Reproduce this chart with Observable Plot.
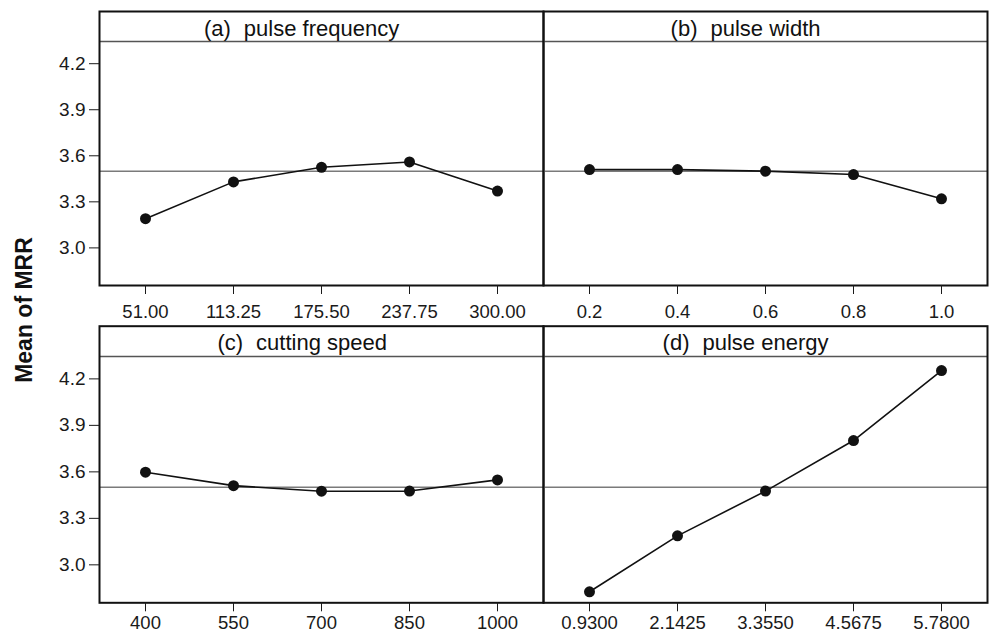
<!DOCTYPE html>
<html><head><meta charset="utf-8">
<script src="https://cdn.jsdelivr.net/npm/d3@7"></script>
<script src="https://cdn.jsdelivr.net/npm/@observablehq/plot@0.6"></script>
<style>
html,body{margin:0;padding:0;background:#fff;}
#chart{position:relative;width:989px;height:636px;overflow:hidden;font-family:"Liberation Sans",Arial,sans-serif;background:#fff;}
#chart svg{position:absolute;}
#ytitle{position:absolute;left:24px;top:310px;transform:translate(-50%,-50%) rotate(-90deg);font-weight:bold;font-size:23px;white-space:nowrap;color:#111;}
</style></head><body>
<div id="chart"><div id="ytitle">Mean of MRR</div></div>
<script>
// ---- data ----
const panelTags = ["(a)", "(b)", "(c)", "(d)"];
const panelNames = ["pulse frequency", "pulse width", "cutting speed", "pulse energy"];

const levelsA = ["51.00", "113.25", "175.50", "237.75", "300.00"];
const meansA = [3.19, 3.43, 3.525, 3.56, 3.37];

const levelsB = ["0.2", "0.4", "0.6", "0.8", "1.0"];
const meansB = [3.51, 3.51, 3.50, 3.478, 3.32];

const levelsC = ["400", "550", "700", "850", "1000"];
const meansC = [3.598, 3.511, 3.475, 3.476, 3.548];

const levelsD = ["0.9300", "2.1425", "3.3550", "4.5675", "5.7800"];
const meansD = [2.826, 3.187, 3.476, 3.802, 4.254];

const yTicks = [3.0, 3.3, 3.6, 3.9, 4.2];
const grandMean = 3.5;
const yDomain = [2.755, 4.54];
const stripEdge = 4.345;

// ---- drawing ----
const FONT = "'Liberation Sans', Arial, Helvetica, sans-serif";
const ctx = document.createElement("canvas").getContext("2d");
ctx.font = `22px ${FONT}`;

function panel(o) {
  const data = o.levels.map((l, i) => ({level: l, mean: o.means[i]}));
  const nameW = ctx.measureText(o.name).width;
  const marks = [
    Plot.ruleY([grandMean], {stroke: "#7a7a7a", strokeWidth: 1.5}),
    Plot.ruleY([stripEdge], {stroke: "#555", strokeWidth: 1.5}),
    Plot.line(data, {x: "level", y: "mean", stroke: "#111", strokeWidth: 1.6}),
    Plot.dot(data, {x: "level", y: "mean", r: 5.5, fill: "#111"}),
    Plot.frame({stroke: "#111", strokeWidth: 2}),
    Plot.axisX({tickSize: 9, tickPadding: o.xPad, fontSize: 18.5, label: null}),
    Plot.text([o.name], {text: d => d, frameAnchor: "top", lineAnchor: "bottom", dy: 24, fontSize: 22, fill: "#111"}),
    Plot.text([o.tag], {text: d => d, frameAnchor: "top", lineAnchor: "bottom", textAnchor: "end", dy: 24, dx: -(nameW / 2 + 13), fontSize: 22, fill: "#111"})
  ];
  if (o.showY) marks.push(Plot.axisY({ticks: yTicks, tickFormat: d3.format(".1f"), tickSize: 10, tickPadding: 4, fontSize: 19, label: null}));
  const svg = Plot.plot({
    width: o.width, height: o.height,
    marginTop: o.mt, marginBottom: o.mb, marginLeft: o.ml, marginRight: o.mr,
    style: {background: "transparent", overflow: "visible", fontFamily: FONT, fontSize: "18px", color: "#1a1a1a"},
    x: {type: "point", domain: o.levels, padding: 0.5},
    y: {domain: yDomain, axis: o.showY ? undefined : null},
    marks
  });
  svg.style.left = o.left + "px";
  svg.style.top = o.top + "px";
  document.getElementById("chart").appendChild(svg);
}

panel({tag: panelTags[0], name: panelNames[0], levels: levelsA, means: meansA, showY: true,
  left: 0, top: 0, width: 560, height: 330, mt: 11, mb: 45, ml: 99, mr: 17, xPad: 10});
panel({tag: panelTags[1], name: panelNames[1], levels: levelsB, means: meansB, showY: false,
  left: 530, top: 0, width: 459, height: 330, mt: 11, mb: 45, ml: 13, mr: 2, xPad: 10});
panel({tag: panelTags[2], name: panelNames[2], levels: levelsC, means: meansC, showY: true,
  left: 0, top: 314, width: 560, height: 322, mt: 11.7, mb: 33.7, ml: 99, mr: 17, xPad: 4});
panel({tag: panelTags[3], name: panelNames[3], levels: levelsD, means: meansD, showY: false,
  left: 530, top: 314, width: 459, height: 322, mt: 11.7, mb: 33.7, ml: 13, mr: 2, xPad: 4});
</script>
</body></html>
